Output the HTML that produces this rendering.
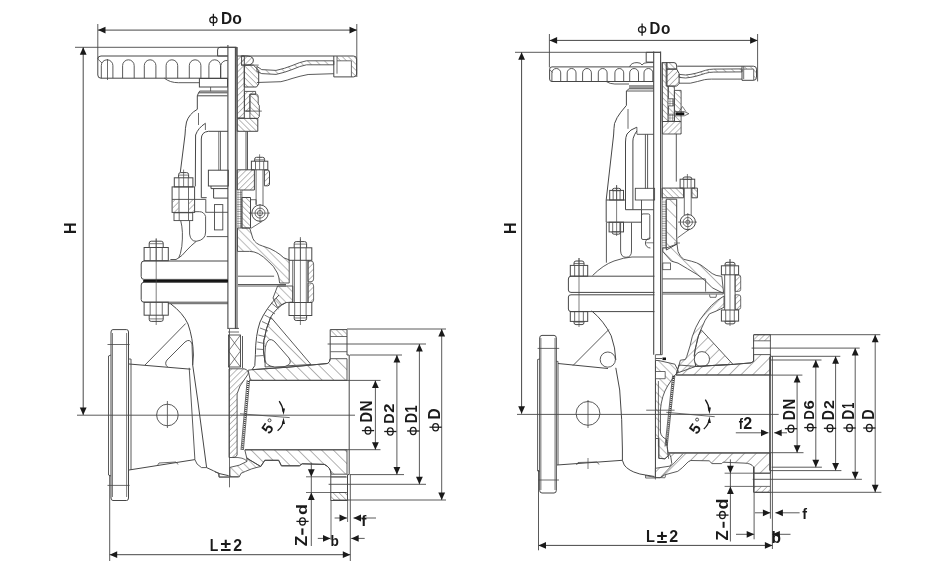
<!DOCTYPE html>
<html><head><meta charset="utf-8"><style>
html,body{margin:0;padding:0;background:#fff;}
svg{display:block;will-change:transform;}
.wrap{width:936px;height:578px;}
text{font-family:"Liberation Sans",sans-serif;font-weight:bold;fill:#1a1a1a;}
</style></head><body><div class="wrap">
<svg width="936" height="578" viewBox="0 0 936 578">
<defs>
<pattern id="hA" patternUnits="userSpaceOnUse" width="4.2" height="4.2" patternTransform="rotate(45)"><line x1="0" y1="0" x2="0" y2="4.2" stroke="#555" stroke-width="0.8"/></pattern>
<pattern id="hB" patternUnits="userSpaceOnUse" width="4.2" height="4.2" patternTransform="rotate(-45)"><line x1="0" y1="0" x2="0" y2="4.2" stroke="#555" stroke-width="0.8"/></pattern>
<pattern id="hW" patternUnits="userSpaceOnUse" width="8.3" height="8.3" patternTransform="rotate(45)"><line x1="0" y1="0" x2="0" y2="8.3" stroke="#555" stroke-width="0.9"/></pattern>
<pattern id="hWB" patternUnits="userSpaceOnUse" width="8.3" height="8.3" patternTransform="rotate(-45)"><line x1="0" y1="0" x2="0" y2="8.3" stroke="#555" stroke-width="0.9"/></pattern>
<pattern id="hM" patternUnits="userSpaceOnUse" width="6" height="6" patternTransform="rotate(45)"><line x1="0" y1="0" x2="0" y2="6" stroke="#555" stroke-width="0.8"/></pattern>
<pattern id="hMB" patternUnits="userSpaceOnUse" width="6" height="6" patternTransform="rotate(-45)"><line x1="0" y1="0" x2="0" y2="6" stroke="#555" stroke-width="0.8"/></pattern>
<pattern id="hX" patternUnits="userSpaceOnUse" width="2.4" height="2.4"><rect width="2.4" height="2.4" fill="#fff"/><path d="M0,0 H2.4 M0,0 V2.4" stroke="#444" stroke-width="0.9"/></pattern>
</defs>
<rect width="936" height="578" fill="#fff"/>
<line x1="98" y1="30.1" x2="357" y2="30.1" stroke="#474747" stroke-width="1.0"/>
<polygon points="98.0,30.1 105.5,26.7 105.5,33.5" fill="#1a1a1a"/>
<polygon points="357.0,30.1 349.5,26.7 349.5,33.5" fill="#1a1a1a"/>
<line x1="97.8" y1="24" x2="97.8" y2="59" stroke="#474747" stroke-width="0.9"/>
<line x1="356.8" y1="24" x2="356.8" y2="77" stroke="#474747" stroke-width="0.9"/>
<ellipse cx="213.4" cy="19.9" rx="3.6" ry="2.9" stroke="#1a1a1a" stroke-width="1.3" fill="none"/>
<line x1="213.4" y1="13.8" x2="213.4" y2="26" stroke="#1a1a1a" stroke-width="1.3"/>
<text transform="translate(222.2,12.5) scale(0.941,1)" x="-1.15" y="11.36" font-size="16.47">D</text>
<text transform="translate(232.9,14.9) scale(0.957,1)" x="-0.66" y="8.9" font-size="16.48">o</text>
<line x1="75" y1="47.3" x2="236" y2="47.3" stroke="#474747" stroke-width="0.9"/>
<line x1="83.2" y1="47.3" x2="83.2" y2="415" stroke="#474747" stroke-width="1.0"/>
<polygon points="83.2,47.3 79.8,54.8 86.6,54.8" fill="#1a1a1a"/>
<polygon points="83.2,415.0 79.8,407.5 86.6,407.5" fill="#1a1a1a"/>
<text transform="translate(63.9,232.9) rotate(-90) scale(0.928,1)" x="-1.2" y="11.87" font-size="17.21">H</text>
<line x1="77" y1="415.2" x2="355" y2="415.2" stroke="#474747" stroke-width="0.9"/>
<line x1="109.7" y1="554.7" x2="350.3" y2="554.7" stroke="#474747" stroke-width="1.0"/>
<polygon points="109.7,554.7 117.2,551.3 117.2,558.1" fill="#1a1a1a"/>
<polygon points="350.3,554.7 342.8,551.3 342.8,558.1" fill="#1a1a1a"/>
<line x1="109.7" y1="475" x2="109.7" y2="561" stroke="#474747" stroke-width="0.9"/>
<line x1="350.3" y1="474.6" x2="350.3" y2="561" stroke="#474747" stroke-width="0.9"/>
<text transform="translate(210.6,539.3) scale(0.850,1)" x="-1.15" y="11.36" font-size="16.47">L</text>
<text transform="translate(220.8,540.5) scale(1.095,1)" x="-0.35" y="10.88" font-size="17.54">&#177;</text>
<text transform="translate(233.7,539.2) scale(0.967,1)" x="-0.49" y="11.46" font-size="16.38">2</text>
<path d="M228,56 L101,56 Q97.8,56 97.8,59 L97.8,75 Q97.8,78.2 101,78.2 L228,78.2" stroke="#474747" stroke-width="1.0" fill="none" />
<line x1="97.8" y1="59" x2="102" y2="63" stroke="#474747" stroke-width="0.8"/>
<path d="M101.3,78.2 L101.3,65.6 A5.8,5.8 0 0 1 112.9,65.6 L112.9,78.2" stroke="#474747" stroke-width="0.9" fill="none" />
<path d="M122.6,78.2 L122.6,65.6 A5.8,5.8 0 0 1 134.2,65.6 L134.2,78.2" stroke="#474747" stroke-width="0.9" fill="none" />
<path d="M144.3,78.2 L144.3,65.6 A5.8,5.8 0 0 1 155.9,65.6 L155.9,78.2" stroke="#474747" stroke-width="0.9" fill="none" />
<path d="M166.1,78.2 L166.1,65.6 A5.8,5.8 0 0 1 177.7,65.6 L177.7,78.2" stroke="#474747" stroke-width="0.9" fill="none" />
<path d="M189.3,78.2 L189.3,65.6 A5.8,5.8 0 0 1 200.9,65.6 L200.9,78.2" stroke="#474747" stroke-width="0.9" fill="none" />
<path d="M208.9,78.2 L208.9,65.6 A5.8,5.8 0 0 1 220.5,65.6 L220.5,78.2" stroke="#474747" stroke-width="0.9" fill="none" />
<path d="M220.8,78.2 L220.8,65.5 A6,6 0 0 1 227.5,60.5" stroke="#474747" stroke-width="0.9" fill="none" />
<line x1="107.5" y1="59" x2="107.5" y2="80" stroke="#474747" stroke-width="0.8"/>
<path d="M164.4,78.2 Q170,82.7 178.3,82.7 L199.4,82.7" stroke="#474747" stroke-width="0.9" fill="none" />
<path d="M227.5,56 L217.6,56 L217.6,50 Q217.6,47.3 220,47.3 L236.8,47.3 L236.8,56" stroke="#474747" stroke-width="1.0" fill="none" />
<line x1="227.9" y1="45" x2="227.9" y2="329" stroke="#474747" stroke-width="1.1"/>
<line x1="235.4" y1="47" x2="235.4" y2="329" stroke="#474747" stroke-width="1.1"/>
<line x1="237" y1="47" x2="237" y2="329" stroke="#474747" stroke-width="1.1"/>
<rect x="199.4" y="78.5" width="28.1" height="8.5" rx="0" stroke="#474747" stroke-width="1.0" fill="none"/>
<line x1="210.6" y1="87" x2="210.6" y2="91.3" stroke="#474747" stroke-width="0.8"/>
<path d="M227.5,91.1 L199.7,91.1 L198.6,92.8 L227.5,92.8 M197.3,95.8 L227.5,95.8 M198.6,92.8 L197.3,95.8" stroke="#474747" stroke-width="1.0" fill="none" />
<path d="M197.3,95.8 L197.3,109.3 Q189,114 186.5,122 Q185.2,128 185,135 L180.3,172.4" stroke="#474747" stroke-width="1.0" fill="none" />
<line x1="198.5" y1="113" x2="198.5" y2="125" stroke="#474747" stroke-width="0.8"/>
<path d="M205.4,123.3 Q198,128 195.6,135 L195.3,186.4" stroke="#474747" stroke-width="1.0" fill="none" />
<line x1="205.4" y1="123.3" x2="205.4" y2="130" stroke="#474747" stroke-width="0.8"/>
<path d="M228,131.3 L208.4,131.3 Q201.3,132 201.3,139 L201.3,197.7 L206.7,197.7" stroke="#474747" stroke-width="1.0" fill="none" />
<line x1="218.8" y1="131.3" x2="218.8" y2="170.2" stroke="#474747" stroke-width="0.8"/>
<line x1="220.5" y1="131.3" x2="220.5" y2="170.2" stroke="#474747" stroke-width="0.8"/>
<rect x="208.4" y="170.2" width="19.9" height="15.8" rx="0" stroke="#474747" stroke-width="1.0" fill="none"/>
<path d="M211,186 L211,188.6 L228,188.6 M213.6,188.6 L213.6,198.1 L228,198.1" stroke="#474747" stroke-width="1.0" fill="none" />
<rect x="214.5" y="204.6" width="8.3" height="25.3" rx="0" stroke="#474747" stroke-width="0.9" fill="none"/>
<path d="M178.6,177.8 L178.6,174.6 Q178.6,172.6 180.6,172.6 L186.6,172.6 Q188.6,172.6 188.6,174.6 L188.6,177.8" stroke="#474747" stroke-width="1.0" fill="none" />
<line x1="178.6" y1="175.1" x2="188.6" y2="175.1" stroke="#474747" stroke-width="0.7"/>
<rect x="174.3" y="177.8" width="18.6" height="9.1" rx="0" stroke="#474747" stroke-width="1.0" fill="none"/>
<line x1="178.95" y1="177.8" x2="178.95" y2="186.9" stroke="#474747" stroke-width="0.8"/>
<line x1="188.25" y1="177.8" x2="188.25" y2="186.9" stroke="#474747" stroke-width="0.8"/>
<line x1="183.6" y1="169.6" x2="183.6" y2="186.9" stroke="#474747" stroke-width="0.7"/>
<rect x="172.1" y="186.9" width="22.5" height="25.5" rx="0" stroke="#474747" stroke-width="1.0" fill="none"/>
<line x1="172.1" y1="199.4" x2="205.8" y2="199.4" stroke="#474747" stroke-width="0.9"/>
<line x1="205.8" y1="199.4" x2="205.8" y2="212.4" stroke="#474747" stroke-width="0.9"/>
<line x1="179" y1="186.9" x2="179" y2="212.8" stroke="#474747" stroke-width="0.8"/>
<line x1="188.5" y1="186.9" x2="188.5" y2="212.8" stroke="#474747" stroke-width="0.8"/>
<path d="M172.6,199.9 L178.5,199.9 L178.5,211.9 L172.6,211.9 Z" fill="url(#hA)" stroke="none"/>
<path d="M189,199.9 L194.1,199.9 L194.1,211.9 L189,211.9 Z" fill="url(#hA)" stroke="none"/>
<line x1="205.6" y1="212.3" x2="228" y2="212.3" stroke="#474747" stroke-width="0.9"/>
<rect x="174" y="212.8" width="18.7" height="7.8" rx="0" stroke="#474747" stroke-width="0.9" fill="none"/>
<line x1="179.2" y1="212.8" x2="179.2" y2="220.6" stroke="#474747" stroke-width="0.8"/>
<line x1="188.5" y1="212.8" x2="188.5" y2="220.6" stroke="#474747" stroke-width="0.8"/>
<path d="M180.7,220.6 Q183.5,231 181.8,246.5 Q180.5,255 178.7,257.9 L176,259.5 L170.4,259.5" stroke="#474747" stroke-width="0.9" fill="none" />
<path d="M189.6,220.6 L189.6,234 Q190.5,241.3 196.3,241.3 Q205.6,240 205.6,232 L205.6,216.4 Q204,211.7 199.4,211.7 L194.6,211.7" stroke="#474747" stroke-width="0.9" fill="none" />
<path d="M196.3,241.3 Q191,245.5 186,251 Q182,256 178.7,257.9" stroke="#474747" stroke-width="0.9" fill="none" />
<line x1="206.7" y1="236.6" x2="228" y2="236.6" stroke="#474747" stroke-width="0.9"/>
<path d="M237,56 L244.3,56 L244.3,118 L237.2,118 Z" fill="url(#hA)" stroke="#474747" stroke-width="1.0"/>
<path d="M241.6,56 Q253.4,55 253.4,60 Q253.4,65 247,65.1 L241.6,65.1 Z" fill="url(#hA)" stroke="#474747" stroke-width="1.0"/>
<path d="M244.3,65.1 L253.4,65.1 L258.7,70.4 L258.7,84 L256.5,87 L244.3,87 Z" fill="url(#hB)" stroke="#474747" stroke-width="1.0"/>
<path d="M256.9,66.4 L261.7,69.6 L276,70.4 Q285,68.5 292,65.6 Q300,62 306.5,60.8 L333.8,60.8 L333.8,64.8 L306.5,64.8 Q300,66 292,69.6 Q285,72.5 276,74.4 L261.7,73.6 L256.9,71.5 Z" fill="url(#hMB)" stroke="#474747" stroke-width="0.9"/>
<path d="M256.9,82.5 L280.9,81.7 Q288,80 292,78.5 Q300,76 308.1,74.5 L333.8,73.7" stroke="#474747" stroke-width="0.9" fill="none" />
<path d="M240.8,56 L353.5,56 Q356.6,56 356.6,59 L356.6,74 Q356.6,76.9 353.5,76.9 L333.8,76.9 L333.8,56" stroke="#474747" stroke-width="1.0" fill="none" />
<path d="M337,56.4 L353.5,56.4 Q356.2,56.4 356.2,59 L356.2,60.8 L337,60.8 Z" fill="url(#hB)" stroke="none"/>
<path d="M351.4,60.8 L356.2,60.8 L356.2,76.5 L351.4,76.5 Z" fill="url(#hB)" stroke="none"/>
<line x1="337" y1="56" x2="337" y2="73.7" stroke="#474747" stroke-width="0.8"/>
<line x1="351.4" y1="60.8" x2="351.4" y2="76.9" stroke="#474747" stroke-width="0.8"/>
<line x1="337" y1="60.8" x2="351.4" y2="60.8" stroke="#474747" stroke-width="0.8"/>
<line x1="241" y1="65.1" x2="258.7" y2="65.1" stroke="#474747" stroke-width="0.8"/>
<path d="M244.5,91.4 L255.6,91.4 L255.6,94.2 L249.9,94.2 L249.9,111.1 L244.5,111.1 Z" fill="url(#hA)" stroke="#474747" stroke-width="0.9"/>
<path d="M249.9,94.2 L256.8,94.2 Q258.2,94.6 258.2,97 L258.2,104 L259.3,105.5 L259.3,116.5 L257.8,118.4 L249.9,118.4 Z" fill="url(#hB)" stroke="#474747" stroke-width="0.9"/>
<line x1="245.7" y1="111.1" x2="261.8" y2="111.1" stroke="#474747" stroke-width="0.8"/>
<path d="M237.2,118.4 L257.8,118.4 L257.8,131.3 L237.2,131.3 Z" fill="url(#hB)" stroke="#474747" stroke-width="1.0"/>
<line x1="246" y1="131.3" x2="246" y2="169.8" stroke="#474747" stroke-width="0.9"/>
<line x1="247.5" y1="131.3" x2="247.5" y2="169.8" stroke="#474747" stroke-width="0.9"/>
<path d="M237.2,169.8 L254.4,169.8 L254.4,190 L237.2,190 Z" fill="url(#hA)" stroke="#474747" stroke-width="1.0"/>
<path d="M254.6,161.2 L254.6,159.3 Q254.6,157.3 256.6,157.3 L262.6,157.3 Q264.6,157.3 264.6,159.3 L264.6,161.2" stroke="#474747" stroke-width="1.0" fill="none" />
<line x1="254.6" y1="159.8" x2="264.6" y2="159.8" stroke="#474747" stroke-width="0.7"/>
<rect x="251.4" y="161.2" width="16.4" height="8.6" rx="0" stroke="#474747" stroke-width="1.0" fill="none"/>
<line x1="255.5" y1="161.2" x2="255.5" y2="169.8" stroke="#474747" stroke-width="0.8"/>
<line x1="263.7" y1="161.2" x2="263.7" y2="169.8" stroke="#474747" stroke-width="0.8"/>
<line x1="259.6" y1="154.3" x2="259.6" y2="169.8" stroke="#474747" stroke-width="0.7"/>
<path d="M264.4,170 L267.5,170 Q269.5,170 269.5,172 L269.5,184 Q269.5,185.8 267.5,185.8 L264.4,185.8 Z" fill="url(#hA)" stroke="#474747" stroke-width="1.0"/>
<line x1="256.1" y1="169.8" x2="256.1" y2="205" stroke="#474747" stroke-width="0.8"/>
<line x1="263" y1="169.8" x2="263" y2="205" stroke="#474747" stroke-width="0.8"/>
<circle cx="260" cy="213.1" r="8.2" stroke="#474747" stroke-width="1.0" fill="none"/>
<circle cx="260" cy="213.1" r="5" stroke="#474747" stroke-width="0.8" fill="none"/>
<circle cx="260" cy="213.1" r="2.6" stroke="#474747" stroke-width="0.8" fill="none"/>
<line x1="249" y1="213.1" x2="270" y2="213.1" stroke="#474747" stroke-width="0.7"/>
<line x1="260" y1="204" x2="260" y2="222" stroke="#474747" stroke-width="0.7"/>
<line x1="251" y1="228.3" x2="262.2" y2="221.3" stroke="#474747" stroke-width="0.8"/>
<path d="M250.5,199.7 L256.1,199.7 L256.1,204.5" stroke="#474747" stroke-width="0.8" fill="none" />
<path d="M237.2,190 L241.9,190 L241.9,228 L237.2,228 Z" fill="url(#hX)" stroke="none"/>
<line x1="241.9" y1="190" x2="241.9" y2="228" stroke="#474747" stroke-width="0.8"/>
<path d="M241.9,197.5 L250.5,197.5 L250.5,228 L241.9,228 Z" fill="url(#hB)" stroke="#474747" stroke-width="1.0"/>
<path d="M149.2,247.5 L149.2,243.2 Q149.2,241.2 151.2,241.2 L161.2,241.2 Q163.2,241.2 163.2,243.2 L163.2,247.5" stroke="#474747" stroke-width="1.0" fill="none" />
<line x1="149.2" y1="243.7" x2="163.2" y2="243.7" stroke="#474747" stroke-width="0.7"/>
<rect x="144.1" y="247.5" width="24.2" height="13.2" rx="0" stroke="#474747" stroke-width="1.0" fill="none"/>
<line x1="150.15" y1="247.5" x2="150.15" y2="260.7" stroke="#474747" stroke-width="0.8"/>
<line x1="162.25" y1="247.5" x2="162.25" y2="260.7" stroke="#474747" stroke-width="0.8"/>
<line x1="156.2" y1="238.2" x2="156.2" y2="260.7" stroke="#474747" stroke-width="0.7"/>
<path d="M228,261 L144,261 Q141.2,261 141.2,264 L141.2,276.5 Q141.2,279.4 144,279.4 L228,279.4" stroke="#474747" stroke-width="1.0" fill="none" />
<rect x="143.2" y="280" width="84.8" height="2.2" fill="#111"/>
<path d="M228,282.3 L144,282.3 Q141.2,282.3 141.2,285 L141.2,299.5 Q141.2,302.2 144,302.2 L228,302.2" stroke="#474747" stroke-width="1.0" fill="none" />
<line x1="168" y1="303.7" x2="228" y2="303.7" stroke="#474747" stroke-width="0.9"/>
<rect x="144.1" y="302.2" width="24.2" height="13" rx="0" stroke="#474747" stroke-width="1.0" fill="none"/>
<line x1="150.15" y1="302.2" x2="150.15" y2="315.2" stroke="#474747" stroke-width="0.8"/>
<line x1="162.25" y1="302.2" x2="162.25" y2="315.2" stroke="#474747" stroke-width="0.8"/>
<path d="M149.2,315.2 L149.2,319.4 Q149.2,321.4 151.2,321.4 L161.2,321.4 Q163.2,321.4 163.2,319.4 L163.2,315.2" stroke="#474747" stroke-width="1.0" fill="none" />
<line x1="149.2" y1="318.9" x2="163.2" y2="318.9" stroke="#474747" stroke-width="0.7"/>
<line x1="156.2" y1="238.9" x2="156.2" y2="325" stroke="#474747" stroke-width="0.7"/>
<path d="M170.5,303.7 Q183,313 188,324 Q193,338 193.4,355 L192.7,365 L197.7,400 L206.6,467.6 Q214,471 219.1,473.5 L228.7,475.7" stroke="#474747" stroke-width="1.0" fill="none" />
<path d="M189.2,367.8 L194.9,459.6 Q196,464.5 201.5,467.6 L206.6,467.6" stroke="#474747" stroke-width="0.9" fill="none" />
<path d="M129,364 L190.6,369.2" stroke="#474747" stroke-width="1.0" fill="none" />
<path d="M129,470 L194.9,459.6" stroke="#474747" stroke-width="1.0" fill="none" />
<path d="M157.7,465 L159,463 L176,462 L178,464.5" stroke="#474747" stroke-width="0.8" fill="none" />
<path d="M218.4,473.5 L219,477.2 L229,477.2" stroke="#474747" stroke-width="0.8" fill="none" />
<line x1="145" y1="365" x2="185.7" y2="323.5" stroke="#474747" stroke-width="0.9"/>
<path d="M167.7,367 Q164,364 167,360 L185,342 Q190,338 192,344 L192.7,365" stroke="#474747" stroke-width="0.9" fill="none" />
<circle cx="167.4" cy="415" r="10.8" stroke="#474747" stroke-width="0.9" fill="none"/>
<line x1="167.4" y1="401" x2="167.4" y2="428" stroke="#474747" stroke-width="0.8"/>
<path d="M126.5,329.6 L113,329.6 Q111,329.6 111,332 L111,498 Q111,500.5 113,500.5 L126.5,500.5 Q128.5,500.5 128.5,498 L128.5,332 Q128.5,329.6 126.5,329.6" stroke="#474747" stroke-width="1.0" fill="none" />
<line x1="112.5" y1="333" x2="112.5" y2="497" stroke="#474747" stroke-width="0.7"/>
<line x1="126.6" y1="333" x2="126.6" y2="497" stroke="#474747" stroke-width="0.7"/>
<path d="M111,355 L108.5,356 L108.5,475 L111,476" stroke="#474747" stroke-width="0.9" fill="none" />
<line x1="128.5" y1="359" x2="131" y2="359" stroke="#474747" stroke-width="0.8"/>
<line x1="131" y1="359" x2="131" y2="470" stroke="#474747" stroke-width="0.9"/>
<line x1="107.5" y1="344.5" x2="129.6" y2="344.5" stroke="#474747" stroke-width="0.8"/>
<line x1="107.5" y1="485.4" x2="129.6" y2="485.4" stroke="#474747" stroke-width="0.8"/>
<line x1="228" y1="328.4" x2="239" y2="328.4" stroke="#474747" stroke-width="0.9"/>
<line x1="228" y1="332" x2="239" y2="332" stroke="#474747" stroke-width="0.8"/>
<rect x="228.5" y="335" width="12" height="32" rx="0" stroke="#474747" stroke-width="0.9" fill="none"/>
<path d="M228.5,335 L240.5,351 M240.5,335 L228.5,351 M228.5,351 L240.5,367 M240.5,351 L228.5,367" stroke="#474747" stroke-width="0.7" fill="none" />
<line x1="242.5" y1="336" x2="242.5" y2="368" stroke="#474747" stroke-width="0.9"/>
<path d="M229,368.8 L244,368.8 Q249,370 248.2,374 L240,386 L237.1,393.8 L237.1,455 Q236,457.5 233,457.5 L229,457.5 Z" fill="url(#hA)" stroke="#474747" stroke-width="0.9"/>
<path d="M249.6,380.6 L243.4,450 M247.2,380 L241,450" stroke="#474747" stroke-width="0.8" fill="none" />
<path d="M248.4,381 L242.2,450" stroke="#333" stroke-width="1.6" stroke-dasharray="1,1" fill="none"/>
<path d="M237.5,228 L249.7,228 L252.9,238.5 Q255.5,244 262.5,246 Q271,248.5 275.3,251.4 Q280.5,254.5 283.8,257.8 L289.2,259.9 L289.2,283 L279.6,283 Q279,276 277.4,273 Q274,266 268.9,262 Q263,256 258.2,253.5 Q254,251.4 249.7,251.4 L237.5,251.4 Z" fill="url(#hMB)" stroke="#474747" stroke-width="0.9"/>
<line x1="238" y1="276.2" x2="274.1" y2="276.2" stroke="#474747" stroke-width="0.9"/>
<line x1="238" y1="284.5" x2="286" y2="284.5" stroke="#474747" stroke-width="0.9"/>
<line x1="238" y1="286" x2="286" y2="286" stroke="#474747" stroke-width="0.9"/>
<path d="M277.6,286 L292.8,286 L292.8,302 L285.9,302.6 Q280,305 277.6,307.5 L273,298 Z" fill="url(#hMB)" stroke="#474747" stroke-width="0.9"/>
<path d="M294.2,247.8 L294.2,243.6 Q294.2,241.6 296.2,241.6 L304.6,241.6 Q306.6,241.6 306.6,243.6 L306.6,247.8" stroke="#474747" stroke-width="1.0" fill="none" />
<line x1="294.2" y1="244.1" x2="306.6" y2="244.1" stroke="#474747" stroke-width="0.7"/>
<rect x="289" y="247.8" width="22.8" height="12.5" rx="0" stroke="#474747" stroke-width="1.0" fill="none"/>
<line x1="294.7" y1="247.8" x2="294.7" y2="260.3" stroke="#474747" stroke-width="0.8"/>
<line x1="306.1" y1="247.8" x2="306.1" y2="260.3" stroke="#474747" stroke-width="0.8"/>
<line x1="300.4" y1="238.6" x2="300.4" y2="260.3" stroke="#474747" stroke-width="0.7"/>
<line x1="292.8" y1="260.3" x2="292.8" y2="302.5" stroke="#474747" stroke-width="0.9"/>
<line x1="308" y1="260.3" x2="308" y2="302.5" stroke="#474747" stroke-width="0.9"/>
<line x1="294.5" y1="260.3" x2="294.5" y2="302.5" stroke="#474747" stroke-width="0.7"/>
<line x1="306.3" y1="260.3" x2="306.3" y2="302.5" stroke="#474747" stroke-width="0.7"/>
<path d="M308,261 L311,261 Q313.6,261 313.6,264 L313.6,279 Q313.6,281.7 311,281.7 L308,281.7 Z" fill="url(#hA)" stroke="#474747" stroke-width="0.8"/>
<path d="M308,283 L311,283 Q313.6,283 313.6,286 L313.6,300 Q313.6,302.5 311,302.5 L308,302.5 Z" fill="url(#hA)" stroke="#474747" stroke-width="0.8"/>
<rect x="289" y="302.5" width="22.8" height="13" rx="0" stroke="#474747" stroke-width="1.0" fill="none"/>
<line x1="294.7" y1="302.5" x2="294.7" y2="315.5" stroke="#474747" stroke-width="0.8"/>
<line x1="306.1" y1="302.5" x2="306.1" y2="315.5" stroke="#474747" stroke-width="0.8"/>
<path d="M294.2,315.5 L294.2,318.5 Q294.2,320.5 296.2,320.5 L304.6,320.5 Q306.6,320.5 306.6,318.5 L306.6,315.5" stroke="#474747" stroke-width="1.0" fill="none" />
<line x1="294.2" y1="318" x2="306.6" y2="318" stroke="#474747" stroke-width="0.7"/>
<line x1="300.4" y1="237" x2="300.4" y2="325" stroke="#474747" stroke-width="0.7"/>
<path d="M279,295 Q266,308 260,322 Q255.5,335 255.4,354.5 L254.8,365.6 L252,369.7" stroke="#474747" stroke-width="1.0" fill="none" />
<path d="M285.9,302.6 Q277,307 270.7,317.1 Q266,328 263.8,340.7 Q262.5,350 265.1,362.8" stroke="#474747" stroke-width="1.0" fill="none" />
<line x1="276" y1="298" x2="282" y2="305" stroke="#555" stroke-width="0.8"/>
<line x1="271.5" y1="303" x2="278.5" y2="309" stroke="#555" stroke-width="0.8"/>
<line x1="267.5" y1="309" x2="275" y2="314" stroke="#555" stroke-width="0.8"/>
<line x1="264.5" y1="315" x2="272" y2="319" stroke="#555" stroke-width="0.8"/>
<line x1="262" y1="321.5" x2="269.5" y2="325" stroke="#555" stroke-width="0.8"/>
<line x1="260" y1="328" x2="268" y2="331" stroke="#555" stroke-width="0.8"/>
<line x1="258.3" y1="335" x2="266" y2="337" stroke="#555" stroke-width="0.8"/>
<line x1="257.3" y1="342" x2="264.3" y2="343.5" stroke="#555" stroke-width="0.8"/>
<line x1="256.6" y1="349" x2="263.5" y2="349.5" stroke="#555" stroke-width="0.8"/>
<line x1="256" y1="356" x2="263.5" y2="355.5" stroke="#555" stroke-width="0.8"/>
<path d="M270.7,317.1 L311,364.5 L265.1,367 L265.1,362.8 Q262.5,350 263.8,340.7 Q266,328 270.7,317.1 Z" fill="url(#hWB)" stroke="#474747" stroke-width="0.9"/>
<path d="M274.8,367 Q266,366 265.1,360 Q264,345 268,340.7 Q271,338 275,342 L289,358 Q293,364 285,366.5 Z" stroke="#474747" stroke-width="0.9" fill="#fff" />
<path d="M252,369.7 L290,367 L327.4,363.5 Q330.2,362 330.2,358.7 L330.2,329.6 L347,329.6 L347,355 L349.2,355 L349.2,474.6 L347.5,474.6 L347.5,500.5 L330.8,500.5 L330.8,473.5 Q330.8,467.5 324.3,464.4 L302.2,463.8 L299.4,465.8 L281.4,465.8 L278.7,460.3 L264.8,460.3 L260.7,466.5" stroke="#474747" stroke-width="1.0" fill="none" />
<path d="M248.2,370.2 L252,369.7 L290,367 L327.4,363.5 Q330.2,362 330.2,358.7 L347,358.7 L347,380.3 L250.3,380.3 Z" fill="url(#hWB)" stroke="#474747" stroke-width="0.9"/>
<path d="M330.6,329.9 L346.7,329.9 L346.7,336.5 L330.6,336.5 Z" fill="url(#hB)" stroke="none"/>
<line x1="330.4" y1="336.5" x2="347" y2="336.5" stroke="#474747" stroke-width="0.8"/>
<line x1="330.4" y1="351.7" x2="347" y2="351.7" stroke="#474747" stroke-width="0.8"/>
<path d="M244.8,449.9 L347,449.9 L347,474.2 L331.2,474.2 Q331,467.5 324.3,464.4 L302.2,463.8 L299.4,465.8 L281.4,465.8 L278.7,460.3 L264.8,460.3 L260.7,466.5 L246.8,458.2 Z" fill="url(#hWB)" stroke="#474747" stroke-width="0.9"/>
<path d="M331,492.5 L347.2,492.5 L347.2,500.2 L331,500.2 Z" fill="url(#hB)" stroke="none"/>
<line x1="330.8" y1="477" x2="347" y2="477" stroke="#474747" stroke-width="0.8"/>
<line x1="330.8" y1="492.5" x2="347" y2="492.5" stroke="#474747" stroke-width="0.8"/>
<path d="M229.9,467.4 Q240,466 247,461.4 L246.8,458.2 L260.7,466.5 Q256,467.5 251.3,469 Q245,471.5 241,473.3 L239.3,476.8 L229.9,476.8 Z" fill="url(#hMB)" stroke="#474747" stroke-width="0.9"/>
<path d="M233,457.5 Q244,457 247,461.4" stroke="#474747" stroke-width="0.8" fill="none" />
<path d="M215,472 L219.2,473.4 L219.2,476.9 L238.5,476.9" stroke="#474747" stroke-width="0.8" fill="none" />
<line x1="229.5" y1="329" x2="229.5" y2="487.3" stroke="#474747" stroke-width="0.8"/>
<path d="M240,413.8 L289.7,417.6" stroke="#474747" stroke-width="0.8" fill="none" />
<path d="M279.2,401.2 Q283,407 283.4,412" stroke="#1a1a1a" stroke-width="1.3" fill="none" />
<polygon points="283.6,415 281.8,408.4 285,408.5" fill="#1a1a1a"/>
<path d="M283.4,421 Q282.5,427 277.6,430.8" stroke="#1a1a1a" stroke-width="1.3" fill="none" />
<polygon points="283.6,417.6 285,424 281.8,424" fill="#1a1a1a"/>
<text transform="translate(269.5,435) rotate(-56)" x="0" y="0" font-size="15.5">5</text>
<circle cx="269.5" cy="420.3" r="1.5" stroke="#474747" stroke-width="1.0" fill="none"/>
<line x1="249" y1="380.4" x2="380.5" y2="380.4" stroke="#474747" stroke-width="0.9"/>
<line x1="245" y1="449.7" x2="380.5" y2="449.7" stroke="#474747" stroke-width="0.9"/>
<line x1="375.4" y1="380.4" x2="375.4" y2="449.7" stroke="#474747" stroke-width="0.9"/>
<polygon points="375.4,380.4 372.0,387.9 378.8,387.9" fill="#1a1a1a"/>
<polygon points="375.4,449.7 372.0,442.2 378.8,442.2" fill="#1a1a1a"/>
<line x1="350" y1="355" x2="402" y2="355" stroke="#474747" stroke-width="0.9"/>
<line x1="350" y1="474.6" x2="404" y2="474.6" stroke="#474747" stroke-width="0.9"/>
<line x1="396.9" y1="355" x2="396.9" y2="474.6" stroke="#474747" stroke-width="0.9"/>
<polygon points="396.9,355.0 393.5,362.5 400.3,362.5" fill="#1a1a1a"/>
<polygon points="396.9,474.6 393.5,467.1 400.3,467.1" fill="#1a1a1a"/>
<line x1="327.6" y1="344" x2="426" y2="344" stroke="#474747" stroke-width="0.9"/>
<line x1="328.6" y1="484.3" x2="426" y2="484.3" stroke="#474747" stroke-width="0.9"/>
<line x1="419.4" y1="344" x2="419.4" y2="484.3" stroke="#474747" stroke-width="0.9"/>
<polygon points="419.4,344.0 416.0,351.5 422.8,351.5" fill="#1a1a1a"/>
<polygon points="419.4,484.3 416.0,476.8 422.8,476.8" fill="#1a1a1a"/>
<line x1="347" y1="329" x2="446" y2="329" stroke="#474747" stroke-width="0.9"/>
<line x1="333" y1="500" x2="446" y2="500" stroke="#474747" stroke-width="0.9"/>
<line x1="441.7" y1="329" x2="441.7" y2="500" stroke="#474747" stroke-width="0.9"/>
<polygon points="441.7,329.0 438.3,336.5 445.1,336.5" fill="#1a1a1a"/>
<polygon points="441.7,500.0 438.3,492.5 445.1,492.5" fill="#1a1a1a"/>
<text transform="translate(360.9,410.5) rotate(-90) scale(0.946,1)" x="-1.14" y="11.26" font-size="16.32">N</text>
<text transform="translate(360.9,421.5) rotate(-90) scale(0.898,1)" x="-1.14" y="11.26" font-size="16.32">D</text>
<ellipse cx="368" cy="430.6" rx="2.9" ry="3.6" stroke="#1a1a1a" stroke-width="1.3" fill="none"/>
<line x1="361.9" y1="430.6" x2="374.1" y2="430.6" stroke="#1a1a1a" stroke-width="1.3"/>
<text transform="translate(383.4,412.2) rotate(-90) scale(1.127,1)" x="-0.44" y="10.35" font-size="14.78">2</text>
<text transform="translate(383.4,422.7) rotate(-90) scale(0.967,1)" x="-1.05" y="10.35" font-size="15.00">D</text>
<ellipse cx="390.3" cy="431.5" rx="2.9" ry="3.6" stroke="#1a1a1a" stroke-width="1.3" fill="none"/>
<line x1="384.2" y1="431.5" x2="396.4" y2="431.5" stroke="#1a1a1a" stroke-width="1.3"/>
<text transform="translate(406.3,411.8) rotate(-90) scale(0.787,1)" x="-0.96" y="11.06" font-size="16.03">1</text>
<text transform="translate(406.3,422.3) rotate(-90) scale(0.905,1)" x="-1.12" y="11.06" font-size="16.03">D</text>
<ellipse cx="413.2" cy="431" rx="2.9" ry="3.6" stroke="#1a1a1a" stroke-width="1.3" fill="none"/>
<line x1="407.1" y1="431" x2="419.3" y2="431" stroke="#1a1a1a" stroke-width="1.3"/>
<text transform="translate(428.6,418.5) rotate(-90) scale(0.915,1)" x="-1.17" y="11.57" font-size="16.76">D</text>
<ellipse cx="435.6" cy="427.2" rx="2.9" ry="3.6" stroke="#1a1a1a" stroke-width="1.3" fill="none"/>
<line x1="429.5" y1="427.2" x2="441.7" y2="427.2" stroke="#1a1a1a" stroke-width="1.3"/>
<line x1="311.3" y1="462.7" x2="311.3" y2="546" stroke="#474747" stroke-width="0.9"/>
<polygon points="311.3,476.8 307.9,469.3 314.7,469.3" fill="#1a1a1a"/>
<polygon points="311.3,492.5 307.9,500.0 314.7,500.0" fill="#1a1a1a"/>
<line x1="306" y1="476.8" x2="346" y2="476.8" stroke="#474747" stroke-width="0.8"/>
<line x1="306" y1="492.5" x2="346" y2="492.5" stroke="#474747" stroke-width="0.8"/>
<text transform="translate(296.2,514.2) rotate(-90) scale(1.186,1)" x="-0.61" y="11.05" font-size="15.14">d</text>
<ellipse cx="302.5" cy="521.4" rx="2.9" ry="3.6" stroke="#1a1a1a" stroke-width="1.3" fill="none"/>
<line x1="296.4" y1="521.4" x2="308.6" y2="521.4" stroke="#1a1a1a" stroke-width="1.3"/>
<line x1="302.4" y1="528.4" x2="302.4" y2="534.8" stroke="#1a1a1a" stroke-width="2.1"/>
<text transform="translate(296.2,545.8) rotate(-90) scale(1.074,1)" x="-0.48" y="11.06" font-size="16.03">Z</text>
<line x1="334.6" y1="518" x2="347" y2="518" stroke="#474747" stroke-width="0.9"/>
<polygon points="347.0,518.0 339.5,514.6 339.5,521.4" fill="#1a1a1a"/>
<line x1="353.5" y1="518" x2="376" y2="518" stroke="#474747" stroke-width="0.9"/>
<polygon points="353.5,518.0 361.0,514.6 361.0,521.4" fill="#1a1a1a"/>
<line x1="347.6" y1="500" x2="347.6" y2="522" stroke="#474747" stroke-width="0.8"/>
<text transform="translate(361.6,514.7) scale(1.013,1)" x="-0.3" y="11.05" font-size="15.14">f</text>
<line x1="317.8" y1="538.4" x2="330.5" y2="538.4" stroke="#474747" stroke-width="0.9"/>
<polygon points="330.5,538.4 323.0,535.0 323.0,541.8" fill="#1a1a1a"/>
<line x1="351.2" y1="538.4" x2="364.7" y2="538.4" stroke="#474747" stroke-width="0.9"/>
<polygon points="351.2,538.4 358.7,535.0 358.7,541.8" fill="#1a1a1a"/>
<line x1="331" y1="500" x2="331" y2="540" stroke="#474747" stroke-width="0.8"/>
<text transform="translate(331.5,535.5) scale(0.912,1)" x="-1.05" y="10.95" font-size="15.00">b</text>
<line x1="549.6" y1="40.4" x2="757.6" y2="40.4" stroke="#474747" stroke-width="1.0"/>
<polygon points="549.6,40.4 557.1,37.0 557.1,43.8" fill="#1a1a1a"/>
<polygon points="757.6,40.4 750.1,37.0 750.1,43.8" fill="#1a1a1a"/>
<line x1="549.4" y1="34" x2="549.4" y2="67.4" stroke="#474747" stroke-width="0.9"/>
<line x1="757.6" y1="34" x2="757.6" y2="81.4" stroke="#474747" stroke-width="0.9"/>
<ellipse cx="642.1" cy="29.6" rx="3.6" ry="2.9" stroke="#1a1a1a" stroke-width="1.3" fill="none"/>
<line x1="642.1" y1="23.5" x2="642.1" y2="35.7" stroke="#1a1a1a" stroke-width="1.3"/>
<text transform="translate(650.6,22.7) scale(0.927,1)" x="-1.13" y="11.16" font-size="16.18">D</text>
<text transform="translate(661.5,25.1) scale(0.955,1)" x="-0.64" y="8.7" font-size="16.11">o</text>
<line x1="515" y1="52.3" x2="660" y2="52.3" stroke="#474747" stroke-width="0.9"/>
<line x1="521.6" y1="52.3" x2="521.6" y2="413.7" stroke="#474747" stroke-width="1.0"/>
<polygon points="521.6,52.3 518.2,59.8 525.0,59.8" fill="#1a1a1a"/>
<polygon points="521.6,413.7 518.2,406.2 525.0,406.2" fill="#1a1a1a"/>
<text transform="translate(504.4,232.9) rotate(-90) scale(0.969,1)" x="-1.15" y="11.36" font-size="16.47">H</text>
<line x1="517" y1="414.4" x2="778.7" y2="414.4" stroke="#474747" stroke-width="0.9"/>
<line x1="538.5" y1="545.4" x2="772.4" y2="545.4" stroke="#474747" stroke-width="1.0"/>
<polygon points="538.5,545.4 546.0,542.0 546.0,548.8" fill="#1a1a1a"/>
<polygon points="772.4,545.4 764.9,542.0 764.9,548.8" fill="#1a1a1a"/>
<line x1="538.5" y1="470" x2="538.5" y2="550.3" stroke="#474747" stroke-width="0.9"/>
<line x1="772.4" y1="356" x2="772.4" y2="549" stroke="#474747" stroke-width="0.9"/>
<text transform="translate(646.9,530.3) scale(0.863,1)" x="-1.18" y="11.67" font-size="16.91">L</text>
<text transform="translate(657.1,531.5) scale(1.065,1)" x="-0.36" y="11.18" font-size="18.03">&#177;</text>
<text transform="translate(669.6,530.3) scale(0.962,1)" x="-0.5" y="11.67" font-size="16.67">2</text>
<line x1="676" y1="375.1" x2="802.4" y2="375.1" stroke="#474747" stroke-width="0.9"/>
<line x1="668" y1="452.7" x2="803.5" y2="452.7" stroke="#474747" stroke-width="0.9"/>
<line x1="797.1" y1="375.1" x2="797.1" y2="452.7" stroke="#474747" stroke-width="0.9"/>
<polygon points="797.1,375.1 793.7,382.6 800.5,382.6" fill="#1a1a1a"/>
<polygon points="797.1,452.7 793.7,445.2 800.5,445.2" fill="#1a1a1a"/>
<line x1="770" y1="360" x2="821.5" y2="360" stroke="#474747" stroke-width="0.9"/>
<line x1="771.7" y1="467.2" x2="821.9" y2="467.2" stroke="#474747" stroke-width="0.9"/>
<line x1="815.8" y1="360" x2="815.8" y2="467.2" stroke="#474747" stroke-width="0.9"/>
<polygon points="815.8,360.0 812.4,367.5 819.2,367.5" fill="#1a1a1a"/>
<polygon points="815.8,467.2 812.4,459.7 819.2,459.7" fill="#1a1a1a"/>
<line x1="771" y1="356.3" x2="840.3" y2="356.3" stroke="#474747" stroke-width="0.9"/>
<line x1="771" y1="470.6" x2="841.4" y2="470.6" stroke="#474747" stroke-width="0.9"/>
<line x1="835.6" y1="356.3" x2="835.6" y2="470.6" stroke="#474747" stroke-width="0.9"/>
<polygon points="835.6,356.3 832.2,363.8 839.0,363.8" fill="#1a1a1a"/>
<polygon points="835.6,470.6 832.2,463.1 839.0,463.1" fill="#1a1a1a"/>
<line x1="751.6" y1="348.1" x2="859.7" y2="348.1" stroke="#474747" stroke-width="0.9"/>
<line x1="752.7" y1="479.3" x2="861.9" y2="479.3" stroke="#474747" stroke-width="0.9"/>
<line x1="855.2" y1="348.1" x2="855.2" y2="479.3" stroke="#474747" stroke-width="0.9"/>
<polygon points="855.2,348.1 851.8,355.6 858.6,355.6" fill="#1a1a1a"/>
<polygon points="855.2,479.3 851.8,471.8 858.6,471.8" fill="#1a1a1a"/>
<line x1="754" y1="334.7" x2="880.3" y2="334.7" stroke="#474747" stroke-width="0.9"/>
<line x1="754.9" y1="492.3" x2="881.4" y2="492.3" stroke="#474747" stroke-width="0.9"/>
<line x1="875.2" y1="334.7" x2="875.2" y2="492.3" stroke="#474747" stroke-width="0.9"/>
<polygon points="875.2,334.7 871.8,342.2 878.6,342.2" fill="#1a1a1a"/>
<polygon points="875.2,492.3 871.8,484.8 878.6,484.8" fill="#1a1a1a"/>
<text transform="translate(784.2,408.6) rotate(-90) scale(0.945,1)" x="-1.09" y="10.76" font-size="15.59">N</text>
<text transform="translate(784.2,419.2) rotate(-90) scale(0.898,1)" x="-1.09" y="10.76" font-size="15.59">D</text>
<ellipse cx="791" cy="428.7" rx="2.9" ry="3.6" stroke="#1a1a1a" stroke-width="1.3" fill="none"/>
<line x1="784.9" y1="428.7" x2="797.1" y2="428.7" stroke="#1a1a1a" stroke-width="1.3"/>
<text transform="translate(803.6,408.9) rotate(-90) scale(1.188,1)" x="-0.57" y="9.9" font-size="14.14">6</text>
<text transform="translate(803.6,418.8) rotate(-90) scale(0.916,1)" x="-1.02" y="10.05" font-size="14.56">D</text>
<ellipse cx="810.3" cy="427.6" rx="2.9" ry="3.6" stroke="#1a1a1a" stroke-width="1.3" fill="none"/>
<line x1="804.2" y1="427.6" x2="816.4" y2="427.6" stroke="#1a1a1a" stroke-width="1.3"/>
<text transform="translate(823.4,408.6) rotate(-90) scale(1.021,1)" x="-0.47" y="10.86" font-size="15.51">2</text>
<text transform="translate(823.4,419.2) rotate(-90) scale(0.890,1)" x="-1.1" y="10.86" font-size="15.74">D</text>
<ellipse cx="830" cy="428.3" rx="2.9" ry="3.6" stroke="#1a1a1a" stroke-width="1.3" fill="none"/>
<line x1="823.9" y1="428.3" x2="836.1" y2="428.3" stroke="#1a1a1a" stroke-width="1.3"/>
<text transform="translate(843.2,408.2) rotate(-90) scale(0.691,1)" x="-0.94" y="10.86" font-size="15.74">1</text>
<text transform="translate(843.2,418.8) rotate(-90) scale(0.879,1)" x="-1.1" y="10.86" font-size="15.74">D</text>
<ellipse cx="849.5" cy="428" rx="2.9" ry="3.6" stroke="#1a1a1a" stroke-width="1.3" fill="none"/>
<line x1="843.4" y1="428" x2="855.6" y2="428" stroke="#1a1a1a" stroke-width="1.3"/>
<text transform="translate(862.6,418.8) rotate(-90) scale(0.888,1)" x="-1.14" y="11.26" font-size="16.32">D</text>
<ellipse cx="869.3" cy="428" rx="2.9" ry="3.6" stroke="#1a1a1a" stroke-width="1.3" fill="none"/>
<line x1="863.2" y1="428" x2="875.4" y2="428" stroke="#1a1a1a" stroke-width="1.3"/>
<line x1="735.8" y1="432.8" x2="768.5" y2="432.8" stroke="#474747" stroke-width="0.9"/>
<polygon points="768.5,432.8 761.0,429.4 761.0,436.2" fill="#1a1a1a"/>
<line x1="774.2" y1="432.8" x2="787" y2="432.8" stroke="#474747" stroke-width="0.9"/>
<polygon points="774.2,432.8 781.7,429.4 781.7,436.2" fill="#1a1a1a"/>
<text transform="translate(739,418) scale(0.837,1)" x="-0.3" y="11.05" font-size="15.14">f</text>
<text transform="translate(743.8,418) scale(1.015,1)" x="-0.47" y="11.06" font-size="15.80">2</text>
<line x1="730.4" y1="459.4" x2="730.4" y2="541.5" stroke="#474747" stroke-width="0.9"/>
<polygon points="730.4,473.2 727.0,465.7 733.8,465.7" fill="#1a1a1a"/>
<polygon points="730.4,486.4 727.0,493.9 733.8,493.9" fill="#1a1a1a"/>
<line x1="724.6" y1="473.2" x2="770" y2="473.2" stroke="#474747" stroke-width="0.8"/>
<line x1="724.6" y1="486.4" x2="770" y2="486.4" stroke="#474747" stroke-width="0.8"/>
<text transform="translate(716.7,508.8) rotate(-90) scale(1.124,1)" x="-0.64" y="11.66" font-size="15.97">d</text>
<ellipse cx="722.4" cy="515.1" rx="2.9" ry="3.6" stroke="#1a1a1a" stroke-width="1.3" fill="none"/>
<line x1="716.3" y1="515.1" x2="728.5" y2="515.1" stroke="#1a1a1a" stroke-width="1.3"/>
<line x1="723.6" y1="521.8" x2="723.6" y2="527.8" stroke="#1a1a1a" stroke-width="2.0"/>
<text transform="translate(716.7,540) rotate(-90) scale(0.986,1)" x="-0.51" y="11.67" font-size="16.91">Z</text>
<line x1="754.9" y1="512.8" x2="770.4" y2="512.8" stroke="#474747" stroke-width="0.9"/>
<polygon points="770.4,512.8 762.9,509.4 762.9,516.2" fill="#1a1a1a"/>
<line x1="775.4" y1="512.8" x2="799.6" y2="512.8" stroke="#474747" stroke-width="0.9"/>
<polygon points="775.4,512.8 782.9,509.4 782.9,516.2" fill="#1a1a1a"/>
<line x1="770.4" y1="334.7" x2="770.4" y2="518.7" stroke="#474747" stroke-width="0.9"/>
<text transform="translate(802.6,507.8) scale(0.947,1)" x="-0.3" y="11.05" font-size="15.14">f</text>
<line x1="736" y1="534.3" x2="754.2" y2="534.3" stroke="#474747" stroke-width="0.9"/>
<polygon points="754.2,534.3 746.7,530.9 746.7,537.7" fill="#1a1a1a"/>
<line x1="772.4" y1="534.3" x2="790.5" y2="534.3" stroke="#474747" stroke-width="0.9"/>
<polygon points="772.4,534.3 779.9,530.9 779.9,537.7" fill="#1a1a1a"/>
<line x1="754.1" y1="467" x2="754.1" y2="539.3" stroke="#474747" stroke-width="0.9"/>
<text transform="translate(772.6,531.5) scale(0.971,1)" x="-1.12" y="11.66" font-size="15.97">b</text>
<path d="M653.7,66.9 L552,66.9 Q549.6,66.9 549.6,69.4 L549.6,79 Q549.6,81.5 552,81.5 L653.7,81.5" stroke="#474747" stroke-width="1.0" fill="none" />
<line x1="549.6" y1="69.4" x2="552.5" y2="72.5" stroke="#474747" stroke-width="0.8"/>
<path d="M551.9,81.5 L551.9,72.9 A4.4,4.4 0 0 1 560.7,72.9 L560.7,81.5" stroke="#474747" stroke-width="0.9" fill="none" />
<path d="M567.2,81.5 L567.2,72.9 A4.4,4.4 0 0 1 576,72.9 L576,81.5" stroke="#474747" stroke-width="0.9" fill="none" />
<path d="M582.6,81.5 L582.6,72.9 A4.4,4.4 0 0 1 591.4,72.9 L591.4,81.5" stroke="#474747" stroke-width="0.9" fill="none" />
<path d="M598.3,81.5 L598.3,72.9 A4.4,4.4 0 0 1 607.1,72.9 L607.1,81.5" stroke="#474747" stroke-width="0.9" fill="none" />
<path d="M614.9,81.5 L614.9,72.9 A4.4,4.4 0 0 1 623.7,72.9 L623.7,81.5" stroke="#474747" stroke-width="0.9" fill="none" />
<path d="M629.7,81.5 L629.7,72.9 A4.4,4.4 0 0 1 638.5,72.9 L638.5,81.5" stroke="#474747" stroke-width="0.9" fill="none" />
<path d="M644,81.5 L644,72.9 A4.4,4.4 0 0 1 652.8,72.9 L652.8,81.5" stroke="#474747" stroke-width="0.9" fill="none" />
<path d="M606.2,81.5 Q610,84 614.8,84 L629,84" stroke="#474747" stroke-width="0.9" fill="none" />
<rect x="629" y="85" width="24.7" height="3.6" fill="#999"/>
<path d="M653.7,88.8 L629,88.8 L626.4,91 L653.7,91" stroke="#474747" stroke-width="0.9" fill="none" />
<path d="M629.6,66.9 Q631,62.6 637,62.6 Q641,62.6 642,65 Q643,62.6 648,62.6 L653.7,62.6" stroke="#474747" stroke-width="0.9" fill="none" />
<path d="M653.7,62.1 L646.2,62.1 L646.2,52.3 L660.6,52.3" stroke="#474747" stroke-width="1.0" fill="none" />
<line x1="653.7" y1="51.4" x2="653.7" y2="354.7" stroke="#474747" stroke-width="1.1"/>
<line x1="660.6" y1="51.4" x2="660.6" y2="354.7" stroke="#474747" stroke-width="1.1"/>
<line x1="662.2" y1="62" x2="662.2" y2="354.7" stroke="#474747" stroke-width="0.9"/>
<path d="M626.4,91 L626.4,105.4 L620.8,112.2 Q616.6,117.4 614.5,123.6 Q613.9,128 613.6,135 L606.2,200" stroke="#474747" stroke-width="1.0" fill="none" />
<line x1="628" y1="109" x2="628" y2="128.8" stroke="#474747" stroke-width="0.8"/>
<path d="M636.9,127.2 Q630,129.5 627,134 Q625.5,137 625.5,142 L625.5,200" stroke="#474747" stroke-width="1.0" fill="none" />
<line x1="636.9" y1="127.2" x2="636.9" y2="134" stroke="#474747" stroke-width="0.8"/>
<path d="M636.9,130.9 Q634.5,134 633.2,138.2 L632.9,141 L632.9,209.7" stroke="#474747" stroke-width="1.0" fill="none" />
<line x1="606.4" y1="222.6" x2="606.4" y2="262.7" stroke="#474747" stroke-width="0.9"/>
<path d="M620.6,222.6 L620.6,251 Q621,257.3 626,257.3 Q631.5,257.3 631.5,251 L631.5,222.6" stroke="#474747" stroke-width="0.9" fill="none" />
<line x1="645.4" y1="134.3" x2="645.4" y2="188.6" stroke="#474747" stroke-width="0.9"/>
<line x1="647.6" y1="134.3" x2="647.6" y2="188.6" stroke="#474747" stroke-width="0.9"/>
<line x1="636.9" y1="134.3" x2="653.7" y2="134.3" stroke="#474747" stroke-width="0.9"/>
<path d="M612.4,190.4 L612.4,190.3 Q612.4,188.3 614.4,188.3 L618.8,188.3 Q620.8,188.3 620.8,190.3 L620.8,190.4" stroke="#474747" stroke-width="1.0" fill="none" />
<line x1="612.4" y1="190.8" x2="620.8" y2="190.8" stroke="#474747" stroke-width="0.7"/>
<rect x="609.7" y="190.4" width="13.8" height="9.6" rx="0" stroke="#474747" stroke-width="1.0" fill="none"/>
<line x1="613.15" y1="190.4" x2="613.15" y2="200" stroke="#474747" stroke-width="0.8"/>
<line x1="620.05" y1="190.4" x2="620.05" y2="200" stroke="#474747" stroke-width="0.8"/>
<line x1="616.6" y1="185.3" x2="616.6" y2="200" stroke="#474747" stroke-width="0.7"/>
<path d="M606.2,200 L625.5,200 L625.5,209.7 L641.5,209.7 L641.5,222.2 L606.2,222.2 Z" stroke="#474747" stroke-width="1.0" fill="none" />
<rect x="609.1" y="222.2" width="14.4" height="9.7" rx="0" stroke="#474747" stroke-width="1.0" fill="none"/>
<line x1="612.7" y1="222.2" x2="612.7" y2="231.9" stroke="#474747" stroke-width="0.8"/>
<line x1="619.9" y1="222.2" x2="619.9" y2="231.9" stroke="#474747" stroke-width="0.8"/>
<path d="M612.1,231.9 L612.1,232.2 Q612.1,234.2 614.1,234.2 L618.5,234.2 Q620.5,234.2 620.5,232.2 L620.5,231.9" stroke="#474747" stroke-width="1.0" fill="none" />
<line x1="612.1" y1="231.7" x2="620.5" y2="231.7" stroke="#474747" stroke-width="0.7"/>
<line x1="616.6" y1="185" x2="616.6" y2="236" stroke="#474747" stroke-width="0.7"/>
<rect x="635.3" y="188.3" width="19.3" height="11.7" rx="0" stroke="#474747" stroke-width="0.9" fill="none"/>
<line x1="641.5" y1="200" x2="641.5" y2="209.7" stroke="#474747" stroke-width="0.9"/>
<line x1="641.5" y1="209.7" x2="653.7" y2="209.7" stroke="#474747" stroke-width="0.9"/>
<rect x="641.5" y="213.9" width="8.3" height="25.6" rx="1.5" stroke="#474747" stroke-width="0.9" fill="none"/>
<path d="M650.4,238 A5,5 0 0 0 650.4,248" stroke="#474747" stroke-width="0.9" fill="none" />
<line x1="646.2" y1="242.8" x2="654" y2="242.8" stroke="#474747" stroke-width="0.7"/>
<path d="M666.2,62.6 L674,62.6 Q676.7,62.6 676.7,66 L676.7,69.1 L666.2,69.1 Z" fill="url(#hB)" stroke="#474747" stroke-width="1.0"/>
<path d="M666.2,69.1 L676.7,69.1 L679.1,73.5 L679.1,83.5 L676.7,86.1 L666.2,86.1 Z" fill="url(#hA)" stroke="#474747" stroke-width="1.0"/>
<path d="M679.1,74.4 L685.6,75 Q691,74.5 696.1,73.2 Q701,71.8 705.5,70.3 Q709,69.2 713.8,69.1 L742,68.9 L742,71.9 L713.8,72.1 Q709,72.2 705.5,73.3 Q701,74.8 696.1,76.2 Q691,77.5 685.6,78 L679.1,77.4 Z" fill="url(#hMB)" stroke="#474747" stroke-width="0.9"/>
<path d="M679.1,83.2 L690.3,83.2 Q698,81.5 704.4,79.7 Q708,79.1 711.4,79.1 L742,79.1" stroke="#474747" stroke-width="0.9" fill="none" />
<path d="M677.3,66.2 L753.5,66.2 Q756.5,66.2 756.5,69.2 L756.5,77.3 Q756.5,80.3 753.5,80.3 L742,80.3 L742,66.2" stroke="#474747" stroke-width="1.0" fill="none" />
<path d="M743.7,66.6 L753.5,66.6 Q756.1,66.6 756.1,69.1 L743.7,69.1 Z" fill="url(#hB)" stroke="none"/>
<path d="M753.7,69.1 L756.1,69.1 L756.1,79.9 L753.7,79.9 Z" fill="url(#hB)" stroke="none"/>
<line x1="743.7" y1="66.2" x2="743.7" y2="79.1" stroke="#474747" stroke-width="0.8"/>
<line x1="753.7" y1="69.1" x2="753.7" y2="80.3" stroke="#474747" stroke-width="0.8"/>
<line x1="743.7" y1="69.1" x2="753.7" y2="69.1" stroke="#474747" stroke-width="0.8"/>
<path d="M662.2,62.6 L667,62.6 L667,86.1 L668.2,86.1 L668.2,121.5 L662.2,121.5 Z" fill="url(#hB)" stroke="#474747" stroke-width="1.0"/>
<path d="M668.2,86.1 L674.4,86.1 L674.4,121.5 L668.2,121.5 Z" fill="url(#hMB)" stroke="#474747" stroke-width="0.8"/>
<path d="M668.4,98.7 L673.6,98.7 L673.6,106 L668.4,106 Z" fill="url(#hX)" stroke="none"/>
<path d="M668.7,114.2 L674.4,114.2 L674.4,120.5 L668.7,120.5 Z" fill="url(#hX)" stroke="none"/>
<path d="M668.4,98.7 L673.6,98.7 L673.6,106 L668.4,106 M668.7,114.2 L674.4,114.2 L674.4,120.5" stroke="#474747" stroke-width="0.7" fill="none" />
<path d="M674.4,90.4 L681.1,90.4 L681.1,121.5 L674.4,121.5 Z" fill="url(#hB)" stroke="#474747" stroke-width="0.9"/>
<path d="M662.4,121.5 L681.1,121.5 L681.1,134 L662.4,134 Z" fill="url(#hA)" stroke="#474747" stroke-width="0.9"/>
<path d="M674.9,111.6 L684.3,111.6 L688.9,113.7 L684.3,115.8 L674.9,115.8" stroke="#474747" stroke-width="0.8" fill="none" />
<rect x="675.5" y="112.4" width="8.8" height="2.7" fill="#111"/>
<path d="M679,111.6 L682.5,106.5 L686,111.6" stroke="#474747" stroke-width="0.7" fill="none" />
<line x1="676.3" y1="133.8" x2="676.3" y2="181.6" stroke="#474747" stroke-width="0.9"/>
<path d="M662.1,188.1 L683.6,188.1 L683.6,197.8 L662.1,197.8 Z" fill="url(#hB)" stroke="#474747" stroke-width="1.0"/>
<path d="M691.9,188.1 L697.4,188.1 L697.4,197.8 L691.9,197.8 Z" fill="url(#hB)" stroke="#474747" stroke-width="1.0"/>
<path d="M682.9,179.2 L682.9,179 Q682.9,177 684.9,177 L689.9,177 Q691.9,177 691.9,179 L691.9,179.2" stroke="#474747" stroke-width="1.0" fill="none" />
<line x1="682.9" y1="179.5" x2="691.9" y2="179.5" stroke="#474747" stroke-width="0.7"/>
<rect x="680.1" y="179.2" width="14.6" height="8.9" rx="0" stroke="#474747" stroke-width="1.0" fill="none"/>
<line x1="683.75" y1="179.2" x2="683.75" y2="188.1" stroke="#474747" stroke-width="0.8"/>
<line x1="691.05" y1="179.2" x2="691.05" y2="188.1" stroke="#474747" stroke-width="0.8"/>
<line x1="687.4" y1="174" x2="687.4" y2="188.1" stroke="#474747" stroke-width="0.7"/>
<line x1="684.3" y1="188.1" x2="684.3" y2="215" stroke="#474747" stroke-width="0.8"/>
<line x1="691.2" y1="188.1" x2="691.2" y2="215" stroke="#474747" stroke-width="0.8"/>
<circle cx="687.8" cy="222.1" r="7.6" stroke="#474747" stroke-width="1.0" fill="none"/>
<circle cx="687.8" cy="222.1" r="4.6" stroke="#474747" stroke-width="0.8" fill="none"/>
<circle cx="687.8" cy="222.1" r="2" stroke="#474747" stroke-width="0.8" fill="none"/>
<line x1="678" y1="222.1" x2="697" y2="222.1" stroke="#474747" stroke-width="0.7"/>
<line x1="687.8" y1="213" x2="687.8" y2="231" stroke="#474747" stroke-width="0.7"/>
<path d="M662.1,200 L666.3,200 L666.3,248 L662.1,248 Z" fill="url(#hX)" stroke="none"/>
<path d="M666.3,199.2 L676.7,199.2 L676.7,237.3 L677,244 L666.3,250 Z" fill="url(#hWB)" stroke="#474747" stroke-width="1.0"/>
<line x1="677.4" y1="238" x2="689.8" y2="229" stroke="#474747" stroke-width="0.8"/>
<path d="M677,244 L678,251.6 Q680,257 683.8,259.3 L691.4,261.2 Q697,262.5 700.9,265 L708.5,270.7 Q712,274 716.1,275.4 L721.8,276.4 L723.7,293.5 L719.9,291.6 L712.3,287.8 L704.7,280.2 L697.1,274.5 L687.6,268.8 L678,263.1 L671.4,261.2 L662.8,251.6 L662.8,248 L666.3,248 Z" fill="url(#hWB)" stroke="#474747" stroke-width="0.9"/>
<rect x="662.8" y="263" width="7.6" height="6.7" rx="0" stroke="#474747" stroke-width="0.8" fill="none"/>
<line x1="705.6" y1="279.2" x2="705.6" y2="291.6" stroke="#474747" stroke-width="0.8"/>
<path d="M709.5,294.5 L710,297.3 L716,297.3 L716.5,294.5" stroke="#474747" stroke-width="0.8" fill="none" />
<line x1="674" y1="243" x2="680" y2="243" stroke="#474747" stroke-width="0.7"/>
<line x1="662.5" y1="278.9" x2="705.4" y2="278.9" stroke="#474747" stroke-width="0.9"/>
<line x1="662.5" y1="292.4" x2="723.4" y2="292.4" stroke="#474747" stroke-width="0.9"/>
<line x1="662.5" y1="294" x2="723.4" y2="294" stroke="#474747" stroke-width="0.9"/>
<path d="M725,265.8 L725,264.3 Q725,262.3 727,262.3 L733,262.3 Q735,262.3 735,264.3 L735,265.8" stroke="#474747" stroke-width="1.0" fill="none" />
<line x1="725" y1="264.8" x2="735" y2="264.8" stroke="#474747" stroke-width="0.7"/>
<rect x="721.4" y="265.8" width="17.2" height="9" rx="0" stroke="#474747" stroke-width="1.0" fill="none"/>
<line x1="725.7" y1="265.8" x2="725.7" y2="274.8" stroke="#474747" stroke-width="0.8"/>
<line x1="734.3" y1="265.8" x2="734.3" y2="274.8" stroke="#474747" stroke-width="0.8"/>
<line x1="730" y1="259.3" x2="730" y2="274.8" stroke="#474747" stroke-width="0.7"/>
<line x1="724.7" y1="274.8" x2="724.7" y2="310" stroke="#474747" stroke-width="0.9"/>
<line x1="735.1" y1="274.8" x2="735.1" y2="310" stroke="#474747" stroke-width="0.9"/>
<path d="M735.1,275 L738.5,275 Q740.7,275 740.7,277 L740.7,289.4 Q740.7,291.4 738.5,291.4 L735.1,291.4 Z" fill="url(#hA)" stroke="#474747" stroke-width="0.8"/>
<path d="M735.1,294.8 L738.5,294.8 Q740.7,294.8 740.7,297 L740.7,307.4 Q740.7,309.4 738.5,309.4 L735.1,309.4 Z" fill="url(#hA)" stroke="#474747" stroke-width="0.8"/>
<rect x="721.4" y="310" width="17.2" height="11.1" rx="0" stroke="#474747" stroke-width="1.0" fill="none"/>
<line x1="725.7" y1="310" x2="725.7" y2="321.1" stroke="#474747" stroke-width="0.8"/>
<line x1="734.3" y1="310" x2="734.3" y2="321.1" stroke="#474747" stroke-width="0.8"/>
<path d="M725,321.1 L725,321.9 Q725,323.9 727,323.9 L733,323.9 Q735,323.9 735,321.9 L735,321.1" stroke="#474747" stroke-width="1.0" fill="none" />
<line x1="725" y1="321.4" x2="735" y2="321.4" stroke="#474747" stroke-width="0.7"/>
<line x1="730" y1="259" x2="730" y2="326" stroke="#474747" stroke-width="0.7"/>
<path d="M717.8,300 Q711,305 705.4,312.5 Q699,320 695.7,327.7 Q691.5,337 690.1,345.7 L686.7,356.7 L685.3,359.5 L680.4,360.2 L679,365 L676.3,373.4 L695.7,366.4 L694.3,355.4 Q695,349 696.4,344.3 Q698,335 701.2,329 Q705,319 709.5,313.8 L716.4,311 L724,307.3 L724,296 Z" fill="url(#hM)" stroke="#474747" stroke-width="0.9"/>
<path d="M701.2,329.8 L733,364.4 L695.7,366.4 L694.3,355.4 Q695,349 696.4,344.3 Q698,335 701.2,329.8 Z" fill="url(#hW)" stroke="#474747" stroke-width="0.9"/>
<circle cx="701.9" cy="359.2" r="7.6" stroke="#474747" stroke-width="0.9" fill="#fff"/>
<path d="M695.7,366.4 L733,364.4 L751,362.9 L753.6,361.3 L753.6,334.7 L770.4,334.7" stroke="#474747" stroke-width="1.0" fill="none" />
<path d="M676.3,374.9 L679,365 L695.7,366.4 L733,364.4 L751,362.9 L753.6,361.3 L753.6,354.6 L770.4,354.6 L770.4,374.9 Z" fill="url(#hW)" stroke="#474747" stroke-width="0.9"/>
<path d="M754.2,335 L770,335 L770,340.8 L754.2,340.8 Z" fill="url(#hA)" stroke="none"/>
<line x1="753.6" y1="340.8" x2="770.4" y2="340.8" stroke="#474747" stroke-width="0.8"/>
<line x1="769.6" y1="356.8" x2="769.6" y2="470.6" stroke="#474747" stroke-width="0.9"/>
<path d="M669.2,453.2 L770.4,453.2 L770.4,473.2 L753.6,473.2 L753.6,466.9 Q751,463.1 744,463.1 L723,462.2 L721.7,463.6 L712,463.6 L709.2,460.8 L690.8,460.5 L688.2,461.8 L682.2,467.8 L677.8,471.3 L664.9,474.8 L660.1,477.8 L655.4,477.8 L655.4,468.3 L670,466.1 L671.8,463.5 L670.9,457.5 Z" fill="url(#hW)" stroke="#474747" stroke-width="0.9"/>
<path d="M658.8,438.5 L658.8,458.3 L664.9,458.8 L668.3,455.7" stroke="#474747" stroke-width="0.8" fill="none" />
<line x1="660.1" y1="477.8" x2="683" y2="453.6" stroke="#474747" stroke-width="0.8"/>
<path d="M645,475.6 L655.4,477.4 L664.9,477.8 L665.7,475.2" stroke="#474747" stroke-width="0.8" fill="none" />
<path d="M753.6,466.9 L753.6,492.3 L770.4,492.3" stroke="#474747" stroke-width="1.0" fill="none" />
<path d="M754,486.6 L770.2,486.6 L770.2,492 L754,492 Z" fill="url(#hA)" stroke="none"/>
<path d="M655.5,354.7 L662.2,354.7 M655.5,358.5 L662.2,358.5" stroke="#474747" stroke-width="0.9" fill="none" />
<rect x="662.5" y="357.5" width="3.5" height="2.6" fill="#111"/>
<path d="M655.5,360.4 L659,360.6 L674.9,364.2 L678.5,371.5 L674.9,375.1 L667.6,386 Q661.6,395.7 660.4,410 L660.4,432 Q661,437 666.4,439.3 L667.2,446.5 L668.3,455.7 L664.9,458.8 L658.8,458.3 L658.8,438.5 L655.5,438.5 Z" fill="url(#hMB)" stroke="#474747" stroke-width="0.9"/>
<line x1="655.5" y1="438.5" x2="655.5" y2="468.3" stroke="#474747" stroke-width="0.9"/>
<path d="M655.8,371.5 L665.2,371.5 L665.2,378.7 L655.8,378.7 Z" fill="#fff" stroke="none"/>
<path d="M655.5,371.5 L665.2,371.5 L665.2,378.7 L655.5,378.7" stroke="#474747" stroke-width="0.8" fill="none" />
<line x1="658.4" y1="381" x2="658.4" y2="446.5" stroke="#474747" stroke-width="0.8"/>
<path d="M674.9,375.1 L667.2,446.5 L668.6,458.8 M672.6,375.5 L665,446.5" stroke="#474747" stroke-width="0.8" fill="none" />
<path d="M673.7,376 L666.2,446" stroke="#333" stroke-width="1.6" stroke-dasharray="1,1" fill="none"/>
<line x1="655.4" y1="354.7" x2="655.4" y2="479.5" stroke="#474747" stroke-width="0.8"/>
<line x1="646.2" y1="410.2" x2="674.6" y2="410.2" stroke="#474747" stroke-width="0.8"/>
<path d="M666.3,412.3 L714.7,416.7" stroke="#474747" stroke-width="0.8" fill="none" />
<path d="M705.3,399.7 Q709,405 709.3,411" stroke="#1a1a1a" stroke-width="1.3" fill="none" />
<polygon points="709.5,414.2 707.7,407.5 710.9,407.6" fill="#1a1a1a"/>
<path d="M709.3,419.5 Q708.5,425 703.8,428.9" stroke="#1a1a1a" stroke-width="1.3" fill="none" />
<polygon points="709.5,416.6 710.9,423 707.7,423" fill="#1a1a1a"/>
<text transform="translate(697,435.3) rotate(-56)" x="0" y="0" font-size="15.5">5</text>
<circle cx="697.1" cy="419.6" r="1.5" stroke="#474747" stroke-width="1.0" fill="none"/>
<path d="M574,265.4 L574,263 Q574,261 576,261 L582,261 Q584,261 584,263 L584,265.4" stroke="#474747" stroke-width="1.0" fill="none" />
<line x1="574" y1="263.5" x2="584" y2="263.5" stroke="#474747" stroke-width="0.7"/>
<rect x="570.3" y="265.4" width="17.4" height="10.8" rx="0" stroke="#474747" stroke-width="1.0" fill="none"/>
<line x1="574.65" y1="265.4" x2="574.65" y2="276.2" stroke="#474747" stroke-width="0.8"/>
<line x1="583.35" y1="265.4" x2="583.35" y2="276.2" stroke="#474747" stroke-width="0.8"/>
<line x1="579" y1="258" x2="579" y2="276.2" stroke="#474747" stroke-width="0.7"/>
<path d="M654.4,276.2 L571,276.2 Q568.4,276.2 568.4,279 L568.4,290 Q568.4,292.4 571,292.4 L654.4,292.4" stroke="#474747" stroke-width="1.0" fill="none" />
<path d="M654.4,294.8 L571,294.8 Q568.4,294.8 568.4,297 L568.4,309 Q568.4,311.6 571,311.6 L654.4,311.6" stroke="#474747" stroke-width="1.0" fill="none" />
<rect x="570.3" y="311.6" width="17.4" height="9.8" rx="0" stroke="#474747" stroke-width="1.0" fill="none"/>
<line x1="574.65" y1="311.6" x2="574.65" y2="321.4" stroke="#474747" stroke-width="0.8"/>
<line x1="583.35" y1="311.6" x2="583.35" y2="321.4" stroke="#474747" stroke-width="0.8"/>
<path d="M574,321.4 L574,322.6 Q574,324.6 576,324.6 L582,324.6 Q584,324.6 584,322.6 L584,321.4" stroke="#474747" stroke-width="1.0" fill="none" />
<line x1="574" y1="322.1" x2="584" y2="322.1" stroke="#474747" stroke-width="0.7"/>
<line x1="579" y1="258" x2="579" y2="327" stroke="#474747" stroke-width="0.7"/>
<path d="M592.5,275.6 Q603,265 614,261 Q624,257.5 632,257 L654,257" stroke="#474747" stroke-width="0.9" fill="none" />
<path d="M591.7,310.9 Q604,321 611.2,335.8 Q615.5,348 615.8,360" stroke="#474747" stroke-width="1.0" fill="none" />
<path d="M615.8,367.8 L619.7,390 Q622.3,420 622.4,449 L622.4,460.3 Q624,466 626.5,467.6 Q630,470.5 633.8,472 Q640,474.5 645.6,475 L654.4,476.5" stroke="#474747" stroke-width="1.0" fill="none" />
<path d="M645.6,475 L645.6,478 L655.4,478" stroke="#474747" stroke-width="0.8" fill="none" />
<path d="M558,363.5 L608,368.5" stroke="#474747" stroke-width="1.0" fill="none" />
<path d="M557,465 L622.4,460.3" stroke="#474747" stroke-width="1.0" fill="none" />
<path d="M576.5,465 L578,462.5 L597,462 L599,464.5" stroke="#474747" stroke-width="0.8" fill="none" />
<line x1="588" y1="458" x2="588" y2="469" stroke="#474747" stroke-width="0.7"/>
<line x1="573" y1="365.5" x2="608.8" y2="329.6" stroke="#474747" stroke-width="0.9"/>
<circle cx="607.8" cy="359.6" r="7.6" stroke="#474747" stroke-width="0.9" fill="none"/>
<circle cx="588" cy="413.4" r="11.9" stroke="#474747" stroke-width="0.9" fill="none"/>
<line x1="588" y1="400" x2="588" y2="428" stroke="#474747" stroke-width="0.8"/>
<path d="M554,335.4 L542,335.4 Q539.7,335.4 539.7,338 L539.7,490.5 Q539.7,493 542,493 L554,493 Q556.3,493 556.3,490.5 L556.3,338 Q556.3,335.4 554,335.4" stroke="#474747" stroke-width="1.0" fill="none" />
<line x1="540.9" y1="338" x2="540.9" y2="490" stroke="#474747" stroke-width="0.7"/>
<line x1="555" y1="338" x2="555" y2="490" stroke="#474747" stroke-width="0.7"/>
<path d="M539.7,359 L537.6,359.5 L537.6,471 L539.7,471.4" stroke="#474747" stroke-width="0.9" fill="none" />
<line x1="556.3" y1="361.4" x2="558" y2="361.4" stroke="#474747" stroke-width="0.8"/>
<line x1="558" y1="361.4" x2="558" y2="465" stroke="#474747" stroke-width="0.9"/>
<line x1="537.6" y1="348.4" x2="559.2" y2="348.4" stroke="#474747" stroke-width="0.8"/>
<line x1="538.6" y1="480" x2="559" y2="480" stroke="#474747" stroke-width="0.8"/>
</svg></div>
</body></html>
